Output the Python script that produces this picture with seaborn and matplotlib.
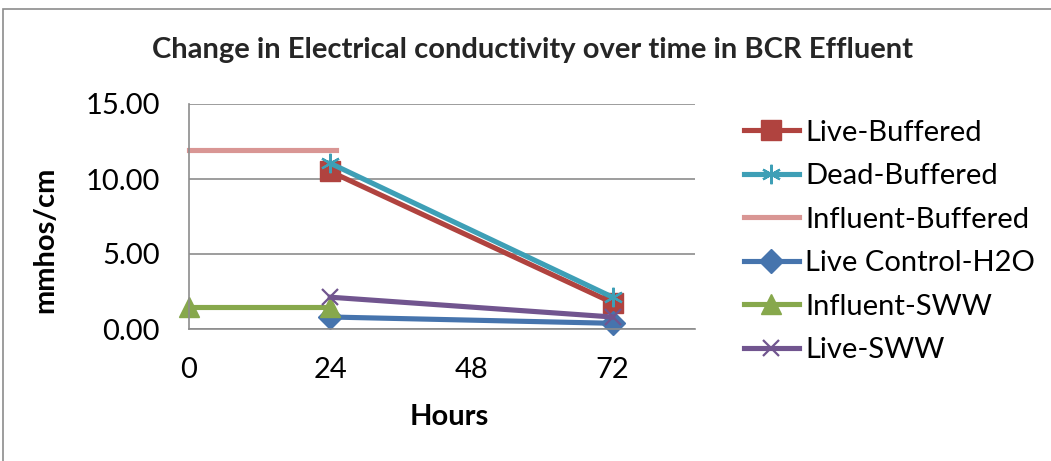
import matplotlib
matplotlib.use("Agg")
import matplotlib.pyplot as plt
import seaborn as sns
import pandas as pd
from matplotlib.patches import Rectangle

sns.set_theme(style="white")
plt.rcParams['font.family'] = ['Lato', 'DejaVu Sans']

title = "Change in Electrical conductivity over time in BCR Effluent"
series_names = ["Live-Buffered", "Dead-Buffered", "Influent-Buffered",
                "Live Control-H2O", "Influent-SWW", "Live-SWW"]
hours_live_buffered = [24, 72]
live_buffered = [10.5, 1.75]
hours_dead_buffered = [24, 72]
dead_buffered = [11.05, 2.12]
hours_influent_buffered = [0, 25]
influent_buffered = [11.9, 11.9]
hours_live_control = [24, 72]
live_control = [0.8, 0.38]
hours_influent_sww = [0, 24]
influent_sww = [1.48, 1.48]
hours_live_sww = [24, 72]
live_sww = [2.12, 0.8]
x_ticks = [0, 24, 48, 72]
y_ticks = [0, 5, 10, 15]

xs = [hours_live_buffered, hours_dead_buffered, hours_influent_buffered,
      hours_live_control, hours_influent_sww, hours_live_sww]
ys = [live_buffered, dead_buffered, influent_buffered,
      live_control, influent_sww, live_sww]
colors = ["#B0433F", "#3E9FB6", "#D99694", "#4674AD", "#87A84C", "#71558F"]
markers = ["s", (6, 2, 0), None, "D", "^", "x"]
msizes = [14, 14, 0, 12, 15, 12]
mews = [1, 1.6, 1, 1, 1, 1.6]

fig = plt.figure(figsize=(10.51, 4.61), dpi=100)
ax = fig.add_axes([189/1051, 1-329/461, (695-189)/1051, (329-104)/461])

for name, x, y, c, m, ms, mew in zip(series_names, xs, ys, colors, markers, msizes, mews):
    df = pd.DataFrame({"Hours": x, "val": y})
    sns.lineplot(data=df, x="Hours", y="val", ax=ax, color=c, linewidth=3.7,
                 marker=m, markersize=ms, markeredgecolor=c, markeredgewidth=mew,
                 label=name, clip_on=False, solid_capstyle="projecting")

ax.set_xlim(0, 86)
ax.set_ylim(0, 15)
ax.set_xticks(x_ticks)
ax.set_yticks(y_ticks)
ax.set_yticklabels([f"{v:.2f}" for v in y_ticks])
ax.tick_params(axis='both', length=0, labelsize=21, colors="black")
ax.tick_params(axis='x', pad=20)
ax.tick_params(axis='y', pad=21)
ax.grid(axis='y', color="#8C8C8C", linewidth=1.2)
ax.grid(axis='x', visible=False)
for s in ["top", "right"]:
    ax.spines[s].set_visible(False)
for s in ["left", "bottom"]:
    ax.spines[s].set_color("#8C8C8C")
    ax.spines[s].set_linewidth(1.2)
ax.set_xlabel("Hours", fontsize=21, fontweight="bold", color="black", va="center")
ax.set_ylabel("mmhos/cm", fontsize=21, fontweight="bold", color="black", va="center")
ax.xaxis.set_label_coords((449-189)/506, (329-417)/225)
ax.yaxis.set_label_coords((45-189)/506, (329-240)/225)

fig.text(533/1051, 1-50/461, title, ha="center", va="center",
         fontsize=21, fontweight="bold")

leg = ax.legend(loc="upper left", bbox_to_anchor=(732/1051, 1-108/461),
                bbox_transform=fig.transFigure, frameon=False, fontsize=21,
                handlelength=1.9, handletextpad=0.2, labelspacing=0.6,
                borderaxespad=0)
for t in leg.get_texts():
    t.set_color("black")

fig.patches.append(Rectangle((3/1051, -0.1), 1.2, 1-9/461+0.1,
                             transform=fig.transFigure, fill=False,
                             edgecolor="#8C8C8C", linewidth=1.2))

fig.savefig("out.png", dpi=100)
